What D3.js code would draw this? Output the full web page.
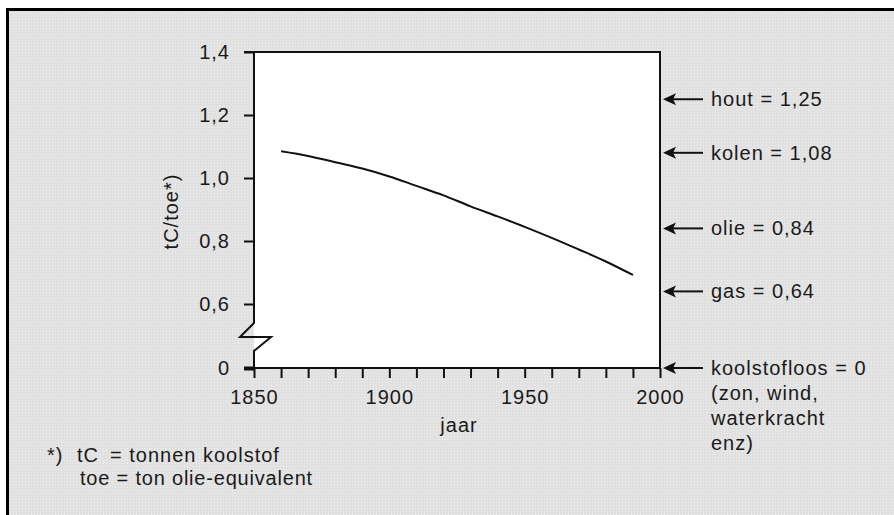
<!DOCTYPE html>
<html><head><meta charset="utf-8">
<script src="https://cdn.jsdelivr.net/npm/d3@7"></script>
<style>
html,body{margin:0;padding:0;background:#fff;}
svg{display:block;}
text{font-family:"Liberation Sans",Arial,Helvetica,sans-serif;fill:#1a1a1a;}
</style></head><body>
<svg id="c" width="894" height="515"></svg>
<script>
// ---- data ----
const years = [1860,1870,1880,1890,1900,1910,1920,1930,1940,1950,1960,1970,1980,1990];
const values = [1.085,1.07,1.05,1.03,1.005,0.975,0.945,0.91,0.878,0.845,0.81,0.773,0.735,0.692];
const yTickValues = [0,0.6,0.8,1.0,1.2,1.4];
const xTickValues = [1850,1860,1870,1880,1890,1900,1910,1920,1930,1940,1950,1960,1970,1980,1990,2000];
const xTickLabels = [1850,1900,1950,2000];
const fuelNames = ["hout","kolen","olie","gas","koolstofloos"];
const fuelValues = [1.25,1.08,0.84,0.64,0];
const fuelLabels = ["hout = 1,25","kolen = 1,08","olie = 0,84","gas = 0,64","koolstofloos = 0"];
const extraLines = ["(zon, wind,","waterkracht","enz)"];
const footnoteMark = "*)";
const footnoteLine1 = ["tC","= tonnen koolstof"];
const footnoteLine2 = "toe = ton olie-equivalent";

const svg = d3.select("#c");
const W = 894, H = 515;
const L = 254, R = 660, T = 52, B = 368;

// background pattern
const defs = svg.append("defs");
const pat = defs.append("pattern").attr("id","dots").attr("width",3).attr("height",3).attr("patternUnits","userSpaceOnUse");
pat.append("rect").attr("width",3).attr("height",3).attr("fill","#e1e1e1");
pat.append("rect").attr("x",1).attr("y",1).attr("width",1).attr("height",1).attr("fill","#efefef");
svg.append("rect").attr("x",6).attr("y",8).attr("width",W).attr("height",H).attr("fill","url(#dots)");
// frame (left and top only)
svg.append("path").attr("d",`M7.5,${H} V9.5 H${W}`).attr("fill","none").attr("stroke","#000").attr("stroke-width",3);

const y06 = T + (1.4-0.6)/0.2*63;
const x = d3.scaleLinear().domain([1850,2000]).range([L,R]);
const y = d3.scaleLinear().domain([0,0.6,1.4]).range([B,y06,T]);

// plot area
svg.append("rect").attr("x",L).attr("y",T).attr("width",R-L).attr("height",B-T).attr("fill","#fff");

const fmt = d => String(d===0?"0":d.toFixed(1)).replace(".",",");
const ax = "#111";
const font = '"Liberation Sans",Arial,sans-serif';

// y axis ticks
const gy = svg.append("g").attr("transform",`translate(${L},0)`)
  .call(d3.axisLeft(y).tickValues(yTickValues).tickFormat(fmt).tickSize(10).tickPadding(14));
gy.select(".domain").remove();
gy.selectAll(".tick line").attr("stroke",ax).attr("stroke-width",2);
gy.selectAll(".tick text").attr("font-size",20).attr("letter-spacing",1).attr("fill","#1a1a1a").style("font-family",font);
gy.selectAll(".tick").filter(d=>d===0).select("line").attr("stroke-width",4);

// x axis ticks
const gx = svg.append("g").attr("transform",`translate(0,${B})`)
  .call(d3.axisBottom(x).tickValues(xTickValues).tickFormat(d=>xTickLabels.includes(d)?String(d):"").tickSize(10).tickPadding(12));
gx.select(".domain").remove();
gx.selectAll(".tick line").attr("stroke",ax).attr("stroke-width",2);
gx.selectAll(".tick text").attr("font-size",20).attr("letter-spacing",1).attr("fill","#1a1a1a").style("font-family",font);

// axis lines with break
const brk1 = y(0.6) + 19, brk2 = brk1 + 14, brk3 = brk2 + 14;
const axisPath = d3.path();
axisPath.moveTo(L, T); axisPath.lineTo(L, brk1); axisPath.lineTo(L-14, brk2); axisPath.lineTo(L+17, brk2);
axisPath.lineTo(L, brk3); axisPath.lineTo(L, B); axisPath.lineTo(R, B); axisPath.lineTo(R, T); axisPath.lineTo(L-10, T);
svg.append("path").attr("d",axisPath.toString()).attr("fill","none").attr("stroke",ax).attr("stroke-width",2);

// curve
svg.append("path").datum(years.map((d,i)=>[d,values[i]]))
  .attr("d",d3.line().x(d=>x(d[0])).y(d=>y(d[1])).curve(d3.curveMonotoneX))
  .attr("fill","none").attr("stroke","#111").attr("stroke-width",2);

// titles
svg.append("text").attr("transform",`translate(178,${(y(1.0)+y(0.8))/2+2}) rotate(-90)`)
  .attr("text-anchor","middle").attr("font-size",20).attr("letter-spacing",1).text("tC/toe*)");
svg.append("text").attr("x",(L+R)/2+2).attr("y",432).attr("text-anchor","middle")
  .attr("font-size",20).attr("letter-spacing",1).text("jaar");

// right-side arrows and labels
const tipX = R + 3;
const fg = svg.append("g");
fuelValues.forEach((v,i)=>{
  const yy = y(v);
  fg.append("line").attr("x1",tipX+8).attr("x2",tipX+40).attr("y1",yy).attr("y2",yy).attr("stroke","#111").attr("stroke-width",2);
  fg.append("path").attr("d",`M${tipX},${yy} L${tipX+13},${yy-6} L${tipX+10},${yy} L${tipX+13},${yy+6} Z`).attr("fill","#111");
  fg.append("text").attr("x",tipX+48).attr("y",yy+7).attr("font-size",20).attr("letter-spacing",1).text(fuelLabels[i]);
});
extraLines.forEach((t,i)=>{
  fg.append("text").attr("x",tipX+48).attr("y",y(0)+7+25*(i+1)).attr("font-size",20).attr("letter-spacing",1).text(t);
});

// footnote
const fn = svg.append("g");
fn.append("text").attr("x",47).attr("y",462).attr("font-size",20).attr("letter-spacing",1).text(footnoteMark);
fn.append("text").attr("x",77).attr("y",462).attr("font-size",20).attr("letter-spacing",1).text(footnoteLine1[0]);
fn.append("text").attr("x",110).attr("y",462).attr("font-size",20).attr("letter-spacing",1).text(footnoteLine1[1]);
fn.append("text").attr("x",80).attr("y",485).attr("font-size",20).attr("letter-spacing",0.8).text(footnoteLine2);
</script>
</body></html>
